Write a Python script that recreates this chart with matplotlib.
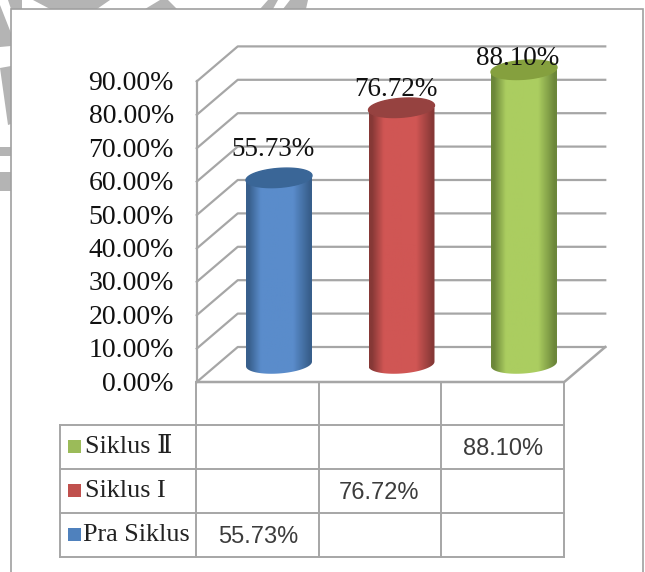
#!/usr/bin/env python

import numpy as np
import matplotlib
matplotlib.use('Agg')
import matplotlib.pyplot as plt
from matplotlib.patches import Polygon, Rectangle
from matplotlib.colors import LinearSegmentedColormap

series = ['Pra Siklus', 'Siklus I', 'Siklus \u2161']
values = [55.73, 76.72, 88.10]
ticks = [0, 10, 20, 30, 40, 50, 60, 70, 80, 90]
body_colors = [('#385f8c', '#5a8ccb'), ('#863836', '#d05654'), ('#6c873a', '#abcd60')]
top_colors = ['#3a6697', '#964240', '#85a03e']
key_colors = ['#4f81bd', '#c0504d', '#9bbb59']
label_dy = [8.5, 5.4, 3.4]  # gap of each value label above its bar
GRID = '#a6a6a6'
SERIF = ['Liberation Serif', 'DejaVu Serif']

W, H = 645, 572
PX_X = 122.5   # pixels per category
PX_Y = 3.34    # pixels per percentage point
X0, Y0 = 279.0, 364.0  # pixel of category 0, value 0 (bar centre plane)

fig = plt.figure(figsize=(W / 100, H / 100), dpi=100)
page = fig.add_axes([0, 0, 1, 1])
page.set_xlim(0, W)
page.set_ylim(H, 0)
page.axis('off')

ax = fig.add_axes([0, 0, 1, 1], facecolor='none')
ax.set_axis_off()
xlim = ((0 - X0) / PX_X, (W - X0) / PX_X)
ylim = ((Y0 - H) / PX_Y, Y0 / PX_Y)

# faded watermark behind the frame
for pts in [[(0, 5), (11, 33), (11, 46), (0, 47)],
            [(0, 68), (11, 66), (11, 124), (8, 125)],
            [(0, 147), (11, 147), (11, 156), (0, 156)],
            [(0, 172), (11, 172), (11, 191), (0, 191)],
            [(8, 0), (22, 0), (22, 9), (11, 9)],
            [(33, 0), (110, 0), (97, 9), (50, 9)],
            [(145, 9), (160, 0), (168, 0), (177, 9)],
            [(260, 9), (268, 0), (278, 0), (273, 9)],
            [(283, 9), (290, 0), (308, 0), (306, 9)]]:
    page.add_patch(Polygon(pts, closed=True, fc='#b4b4b4', ec='none', zorder=0))
page.add_patch(Rectangle((11, 9), 632, H, fc='white', ec='#a0a0a0', lw=1.2, zorder=1))

dx_front, dy_front = -21 / PX_X, -18 / PX_Y
dx_back, dy_back = 20 / PX_X, 17 / PX_Y
left, right = -0.5, 2.5

# walls and floor
for t in ticks:
    ax.plot([left + dx_front, left + dx_back, right + dx_back],
            [t + dy_front, t + dy_back, t + dy_back],
            color=GRID, lw=1.6, zorder=2)
ax.plot([left + dx_front] * 2, [dy_front, 90 + dy_front], color=GRID, lw=1.6, zorder=2)
ax.plot([left + dx_front, right + dx_front, right + dx_back],
        [dy_front, dy_front, dy_back], color=GRID, lw=1.8, zorder=2)

# cylinders
half_w, half_h, tilt = 33.0, 9.5, np.radians(4)
for i, (val, (dark, light)) in enumerate(zip(values, body_colors)):
    t = np.linspace(0, 2 * np.pi, 81)
    ex = half_w * np.cos(t) / PX_X
    ey = (half_w * np.cos(t) * np.sin(tilt) + half_h * np.sin(t)) / PX_Y
    # bottom half of the base ellipse, then straight up the side
    low = t[40:]
    bx = half_w * np.cos(low) / PX_X
    by = (half_w * np.cos(low) * np.sin(tilt) + half_h * np.sin(low)) / PX_Y
    side = np.column_stack([i + np.r_[bx, bx[-1], bx[0]], np.r_[by, val, val]])
    clip = Polygon(side, closed=True, transform=ax.transData, fc='none', ec='none')
    ax.add_patch(clip)
    cmap = LinearSegmentedColormap.from_list(
        'cyl', [(0, dark), (0.04, dark), (0.22, light), (0.72, light), (0.97, dark), (1, dark)])
    im = ax.imshow(np.linspace(0, 1, 64)[None, :], cmap=cmap, aspect='auto',
                   extent=(i - half_w / PX_X, i + half_w / PX_X, -5, val), zorder=3)
    im.set_clip_path(clip)
    ax.fill(i + ex, val + ey, color=top_colors[i], zorder=4)
    ax.text(i - 6 / PX_X, val + label_dy[i], '%.2f%%' % val, ha='center', va='center',
            fontsize=19.5, family=SERIF, color='#111111', zorder=5)

for t in ticks:
    ax.text(left + dx_front - 23 / PX_X, t + dy_front - 0.6, '%.2f%%' % t, ha='right', va='center',
            fontsize=20, family=SERIF, color='#111111')

ax.set_xlim(xlim)
ax.set_ylim(ylim)

# data table under the plot
rows_y = [425, 469, 513, 557]
cols_x = [60, 196, 319, 441, 564]
for y in rows_y:
    page.plot([cols_x[0], cols_x[-1]], [y, y], color=GRID, lw=1.4, zorder=2)
for x in cols_x[1:]:
    page.plot([x, x], [382, rows_y[-1]], color=GRID, lw=1.4, zorder=2)
page.plot([cols_x[0]] * 2, [rows_y[0], rows_y[-1]], color=GRID, lw=1.4, zorder=2)

for i, name in enumerate(series):
    r = 2 - i  # top row holds the last series
    cy = (rows_y[r] + rows_y[r + 1]) / 2
    page.add_patch(Rectangle((68, cy - 7), 13, 13, fc=key_colors[i], ec='none', zorder=3))
    page.text(83 if i == 0 else 85, cy, name, ha='left', va='center', fontsize=18.8,
              family=SERIF, color='#222222', zorder=3)
    page.text((cols_x[i + 1] + cols_x[i + 2]) / 2 + 0.5 - (1 if i == 1 else 0), cy + 2, '%.2f%%' % values[i],
              ha='center', va='center', fontsize=17, family='Liberation Sans',
              color='#3c3c3c', zorder=3)

fig.savefig('out.png', dpi=100)
